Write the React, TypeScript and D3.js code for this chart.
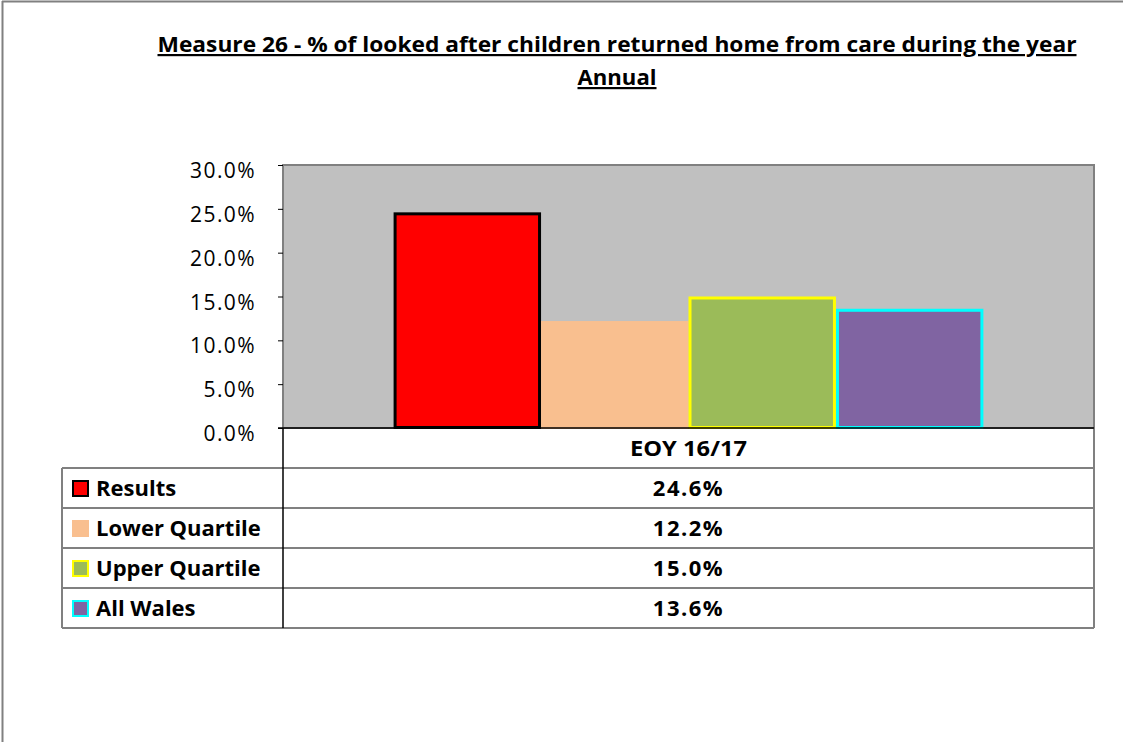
import { useRef, useEffect } from "react";
import * as d3 from "d3";

const categories: string[] = ["EOY 16/17"];
const seriesNames: string[] = ["Results", "Lower Quartile", "Upper Quartile", "All Wales"];
const seriesValues: number[] = [0.246, 0.122, 0.15, 0.136];
const seriesFill: string[] = ["#FF0000", "#F9BF8F", "#9BBB59", "#8064A2"];
const seriesStroke: string[] = ["#000000", "none", "#FFFF00", "#00FFFF"];
const yTicks: number[] = [0, 0.05, 0.1, 0.15, 0.2, 0.25, 0.3];
const titleLines: string[] = [
  "Measure 26 - % of looked after children returned home from care during the year",
  "Annual",
];

const font = "Candara, 'Open Sans', Lato, sans-serif";

const App = () => {
  const axisRef = useRef<SVGGElement>(null);

  const width = 1123;
  const height = 742;
  const plot = { left: 283, right: 1094, top: 165, bottom: 428 };
  const tableLeft = 62;
  const rowH = 40;

  const y = d3.scaleLinear().domain([0, 0.3]).range([plot.bottom, plot.top]);
  const x = d3.scaleBand().domain(categories).range([plot.left, plot.right]);
  const xs = d3
    .scaleBand()
    .domain(seriesNames)
    .range([0, x.bandwidth()])
    .paddingInner(0)
    .paddingOuter(0.75);

  useEffect(() => {
    const g: any = d3.select(axisRef.current);
    g.call(
      d3
        .axisLeft(y)
        .tickValues(yTicks)
        .tickSize(5)
        .tickSizeOuter(0)
        .tickPadding(22)
        .tickFormat(d3.format(".1%"))
    );
    g.select(".domain").remove();
    g.selectAll(".tick line").attr("stroke", "#000");
    g.selectAll(".tick text")
      .attr("font-family", font)
      .attr("font-size", 21)
      .attr("letter-spacing", 1.4)
      .attr("dy", "0.6em")
      .attr("fill", "#000");
  }, []);

  const cat = categories[0];
  const rowTops = seriesNames.map((_, i) => plot.bottom + rowH * (i + 1));
  const tableBottom = plot.bottom + rowH * (seriesNames.length + 1);
  const cx = (x(cat) as number) + x.bandwidth() / 2;

  return (
    <svg
      width={width}
      height={height}
      style={{ position: "absolute", left: 0, top: 0, background: "#fff" }}
    >
      {/* outer frame */}
      <line x1={2} y1={1.5} x2={width} y2={1.5} stroke="#808080" strokeWidth={2} />
      <line x1={2.5} y1={1} x2={2.5} y2={height} stroke="#808080" strokeWidth={2} />

      {/* title */}
      {titleLines.map((t, i) => (
        <text
          key={i}
          x={617}
          y={52 + i * 33}
          textAnchor="middle"
          fontFamily={font}
          fontWeight="bold"
          fontSize={22}
          textDecoration="underline"
          {...(i === 0
            ? { textLength: 919, lengthAdjust: "spacingAndGlyphs" }
            : { textLength: 79, lengthAdjust: "spacingAndGlyphs" })}
        >
          {t}
        </text>
      ))}

      {/* plot area */}
      <rect
        x={plot.left}
        y={plot.top}
        width={plot.right - plot.left}
        height={plot.bottom - plot.top}
        fill="#C0C0C0"
        stroke="#808080"
        strokeWidth={2}
      />

      {/* bars */}
      {seriesNames.map((s, i) => {
        const bx = (x(cat) as number) + (xs(s) as number);
        const by = y(seriesValues[i]);
        const hasStroke = seriesStroke[i] !== "none";
        const inset = hasStroke ? 1.5 : 0;
        return (
          <rect
            key={s}
            x={bx + inset}
            y={by + inset}
            width={xs.bandwidth() - inset * 2}
            height={y(0) - by - inset * 2 + 1}
            fill={seriesFill[i]}
            stroke={seriesStroke[i]}
            strokeWidth={hasStroke ? 3 : 0}
          />
        );
      })}

      <g ref={axisRef} transform={`translate(${plot.left},0)`} />

      {/* data table */}
      <g stroke="#808080" strokeWidth={2} fill="none">
        {rowTops.map((ty, i) => (
          <line key={i} x1={tableLeft} y1={ty} x2={plot.right} y2={ty} />
        ))}
        <line x1={tableLeft} y1={tableBottom} x2={plot.right} y2={tableBottom} />
        <line x1={tableLeft} y1={rowTops[0]} x2={tableLeft} y2={tableBottom} />
        <line x1={plot.right} y1={plot.bottom} x2={plot.right} y2={tableBottom} />
      </g>
      <line x1={plot.left - 5} y1={plot.bottom} x2={plot.right} y2={plot.bottom} stroke="#000" strokeWidth={1.5} />
      <line x1={plot.left} y1={plot.bottom} x2={plot.left} y2={tableBottom} stroke="#000" strokeWidth={1.5} />

      <text
        x={cx}
        y={plot.bottom + rowH / 2 + 8}
        textAnchor="middle"
        fontFamily={font}
        fontWeight="bold"
        fontSize={22}
        textLength={117}
        lengthAdjust="spacingAndGlyphs"
      >
        {cat}
      </text>

      {seriesNames.map((s, i) => {
        const ty = rowTops[i];
        const hasStroke = seriesStroke[i] !== "none";
        return (
          <g key={s}>
            <rect
              x={hasStroke ? 73 : 72}
              y={ty + 12 + (hasStroke ? 1 : 0)}
              width={hasStroke ? 15 : 17}
              height={hasStroke ? 15 : 17}
              fill={seriesFill[i]}
              stroke={seriesStroke[i]}
              strokeWidth={hasStroke ? 2 : 0}
            />
            <text x={96} y={ty + rowH / 2 + 8} fontFamily={font} fontWeight="bold" fontSize={22}>
              {s}
            </text>
            <text
              x={cx}
              y={ty + rowH / 2 + 8}
              textAnchor="middle"
              fontFamily={font}
              fontWeight="bold"
              fontSize={22}
              letterSpacing={1.5}
            >
              {d3.format(".1%")(seriesValues[i])}
            </text>
          </g>
        );
      })}
    </svg>
  );
};

export default App;
